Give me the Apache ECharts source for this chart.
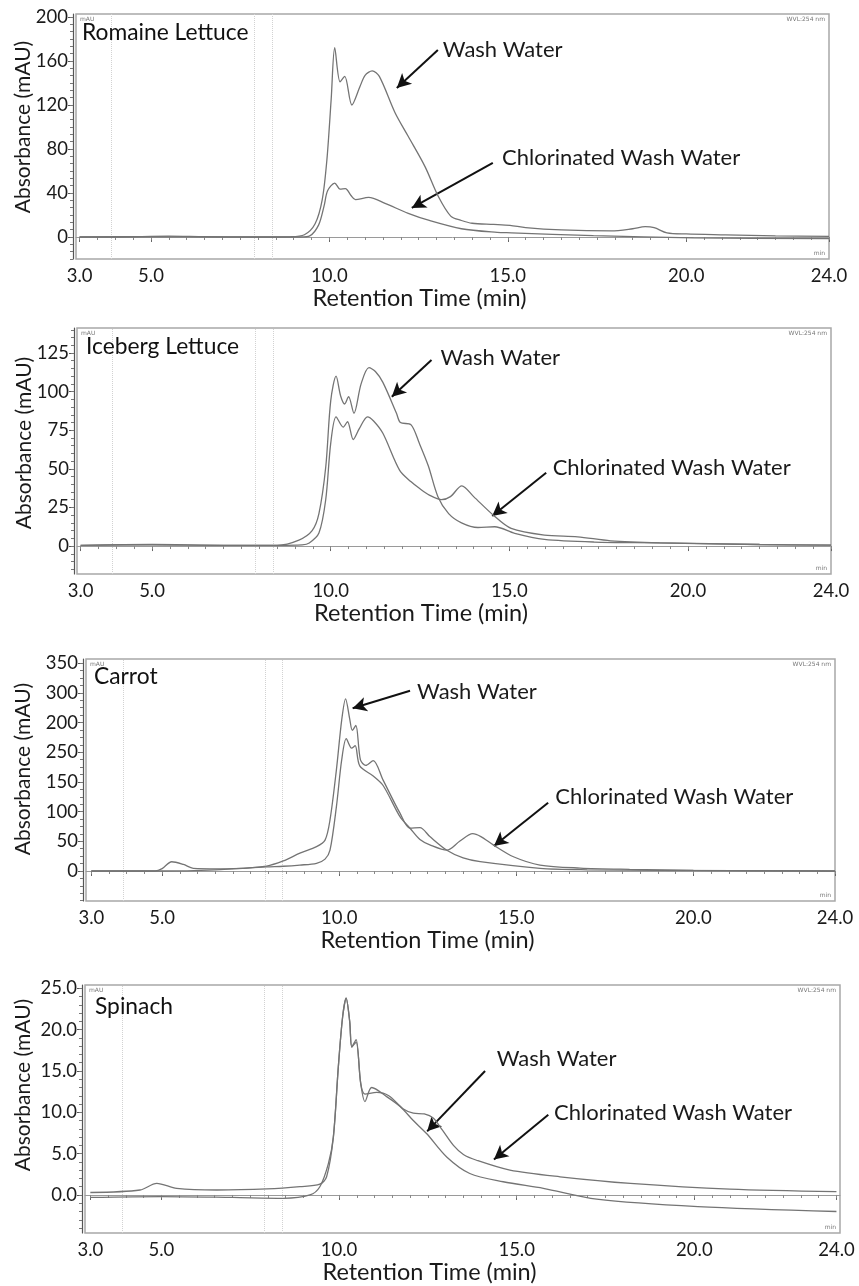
<!DOCTYPE html>
<html>
<head>
<meta charset="utf-8">
<script src="https://cdn.jsdelivr.net/npm/echarts@6/dist/echarts.min.js"></script>
<style>
html, body { margin: 0; padding: 0; background: #fff; }
#chart-container { width: 859px; height: 1286px; }
</style>
</head>
<body>
<div id="chart-container"></div>
<script>
var dom = document.getElementById('chart-container');
var myChart = echarts.init(dom, null, { renderer: 'canvas' });

// x ticks and the faint marker lines of the instrument software
var xTickValues = [3, 5, 10, 15, 20, 24];
var markerTimes = [3.9, 7.9, 8.4];

var panelNames = ['Romaine Lettuce', 'Iceberg Lettuce', 'Carrot', 'Spinach'];
var noteTexts = ['Wash Water', 'Chlorinated Wash Water'];

// [retention time (min), absorbance (mAU)]
var romaineWash = [[3, 0], [4, 0], [5.5, 0.8], [6.5, 0.3], [8, 0], [8.9, 0.2], [9.3, 2], [9.6, 12], [9.8, 34], [9.93, 70],
  [10.05, 125], [10.15, 172], [10.3, 141], [10.43, 146], [10.63, 120], [10.86, 137], [11.0, 147], [11.2, 151], [11.4, 146],
  [11.84, 113], [12.2, 92], [12.68, 64], [13.05, 37], [13.4, 19], [13.7, 15], [14.0, 12.5], [14.6, 11.5], [15.06, 10.6],
  [15.5, 8.5], [16.5, 6.4], [17.9, 5.5], [18.5, 7.5], [18.85, 9.4], [19.1, 8.5], [19.46, 3.8], [20, 2.8], [21.1, 2],
  [22.5, 1], [24, 0.5]];
var romaineChlor = [[3, 0], [5, 0.3], [7, 0], [8.5, 0], [9.2, 0], [9.45, 1], [9.7, 11], [9.85, 28], [9.95, 42], [10.15, 49],
  [10.3, 43.5], [10.45, 44], [10.6, 38], [10.73, 34], [11.1, 36], [11.56, 30.6], [12.21, 21.5], [12.8, 15], [13.7, 7.5],
  [14.7, 4.2], [15.1, 3.8], [17.4, 1.2], [20.2, -0.8], [24, -1.5]];

var icebergWash = [[3, 0.5], [5, 1], [7, 0.5], [8.5, 0.5], [9.11, 3.9], [9.48, 10], [9.67, 21], [9.86, 51], [10.0, 94],
  [10.15, 110], [10.28, 97], [10.39, 92], [10.5, 96.7], [10.65, 86], [10.85, 105], [11.07, 115.5], [11.25, 113],
  [11.46, 106], [11.84, 86], [11.95, 80], [12.25, 78.5], [12.48, 66.5], [12.73, 52], [13.0, 32], [13.3, 21], [13.66, 15],
  [14.12, 12], [14.59, 12.5], [15.15, 8.2], [15.98, 4.3], [17.37, 2.6], [19.2, 2.1], [22, 1], [24, 0.6]];
var icebergChlor = [[3, 0.5], [5, 0.8], [7, 0.5], [8.5, 0.5], [9.2, 0.8], [9.4, 2], [9.67, 8.4], [9.86, 30], [10.0, 66.5],
  [10.15, 83.7], [10.35, 77], [10.47, 80.5], [10.63, 69], [10.8, 76], [11.03, 83.7], [11.2, 81], [11.46, 73], [11.93, 49],
  [12.25, 41.6], [12.48, 37.4], [12.76, 33], [13.1, 30], [13.35, 32], [13.67, 39], [14.0, 32], [14.55, 20], [15.05, 11.4],
  [15.98, 7.1], [16.91, 6], [17.83, 3.4], [19.2, 2.1], [22, 1], [24, 0.6]];

var carrotWash = [[3, 0], [4.8, 0], [5.0, 4], [5.27, 15.6], [5.6, 11], [5.88, 4.5], [6.57, 3.7], [7.01, 4], [7.95, 8.4],
  [8.42, 17], [8.89, 30], [9.36, 41], [9.6, 52], [9.74, 86], [9.92, 170], [10.07, 254], [10.18, 290], [10.3, 255],
  [10.37, 237], [10.47, 245], [10.6, 187], [10.75, 178], [10.96, 186], [11.24, 153], [11.72, 97], [12.0, 72], [12.28, 73],
  [12.56, 58], [13.04, 35], [13.5, 22], [13.98, 15.7], [15.67, 4.5], [17, 2], [19, 1], [24, 0]];
var carrotChlor = [[3, 0], [5, 0], [6.5, 2], [7.95, 7], [8.42, 8], [8.89, 10], [9.36, 13], [9.6, 20], [9.74, 35],
  [9.92, 108], [10.07, 187], [10.2, 223], [10.35, 207], [10.45, 211], [10.58, 177], [10.96, 160], [11.24, 144],
  [11.72, 91], [12.0, 72], [12.28, 53], [12.56, 44], [13.04, 35], [13.4, 50], [13.77, 63], [14.0, 58], [14.35, 44],
  [14.92, 24], [15.67, 10], [16.8, 5], [18.2, 2.8], [20, 1], [24, 0]];

var spinachWash = [[3, -0.3], [5, -0.2], [7, -0.3], [8.43, -0.4], [9.18, 0], [9.46, 1.0], [9.7, 3.8], [9.84, 7],
  [9.98, 15.5], [10.1, 21.5], [10.2, 23.8], [10.3, 21], [10.36, 17.9], [10.48, 18.5], [10.61, 13.5], [10.73, 11.3],
  [10.92, 13.0], [11.34, 11.9], [11.72, 10.7], [12.09, 9.0], [12.47, 7.4], [13.03, 4.6], [13.68, 2.6], [14.62, 1.6],
  [15.75, 0.8], [17.25, -0.5], [20.1, -1.4], [24, -2.0]];
var spinachChlor = [[3, 0.3], [4.4, 0.6], [4.87, 1.4], [5.43, 0.8], [6.56, 0.6], [7.97, 0.73], [8.9, 1.0], [9.46, 1.3],
  [9.65, 2.2], [9.84, 7], [9.98, 15.5], [10.1, 21.5], [10.2, 23.8], [10.3, 21], [10.36, 17.9], [10.48, 18.8],
  [10.61, 13.5], [10.73, 12.2], [11.06, 12.4], [11.4, 12], [11.81, 10.4], [12.09, 9.9], [12.4, 9.8], [12.65, 9.3],
  [12.9, 7.9], [13.22, 6.0], [13.5, 4.9], [13.87, 4.2], [14.81, 3.0], [16.22, 2.2], [18.2, 1.4], [21, 0.7], [24, 0.4]];

// y tick values; the carrot panel prints 200 and 250 swapped, as in the original
var romaineYTicks = [0, 40, 80, 120, 160, 200];
var icebergYTicks = [0, 25, 50, 75, 100, 125];
var carrotYTicks = [0, 50, 100, 150, 200, 250, 300, 350];
var carrotYLabels = ['0', '50', '100', '150', '250', '200', '300', '350'];
var spinachYTicks = [0, 5, 10, 15, 20, 25];

// annotation anchors in data units: [text start], [arrow tail, arrow head]
var romaineNotes = [[13.18, 170], [14.84, 71.8]];
var romaineArrows = [[[13.04, 170], [11.89, 135.5]], [[14.58, 67.3], [12.31, 26.4]]];
var icebergNotes = [[13.07, 121.8], [16.21, 50.3]];
var icebergArrows = [[[12.82, 120.5], [11.71, 96.7]], [[16.03, 47.5], [14.52, 19.4]]];
var carrotNotes = [[12.2, 301], [16.1, 125]];
var carrotArrows = [[[12.0, 303.5], [10.38, 274]], [[15.9, 115], [14.37, 42]]];
var spinachNotes = [[14.44, 16.5], [16.05, 9.9]];
var spinachArrows = [[[14.11, 15.0], [12.48, 7.7]], [[15.89, 9.7], [14.36, 4.3]]];

var panels = [
  { wash: romaineWash, chlor: romaineChlor, yTicks: romaineYTicks, yLabels: null, notes: romaineNotes, arrows: romaineArrows },
  { wash: icebergWash, chlor: icebergChlor, yTicks: icebergYTicks, yLabels: null, notes: icebergNotes, arrows: icebergArrows },
  { wash: carrotWash, chlor: carrotChlor, yTicks: carrotYTicks, yLabels: carrotYLabels, notes: carrotNotes, arrows: carrotArrows },
  { wash: spinachWash, chlor: spinachChlor, yTicks: spinachYTicks, yLabels: null, notes: spinachNotes, arrows: spinachArrows, decimals: 1 }
];

// layout of each panel (pixels) and axis extents
var layout = [
  { left: 76, top: 14, width: 753, height: 245, xMin: 2.9, xMax: 24, yMin: -20, yMax: 202.7, yMinor: 40 / 6, yNameX: 23, yNameY: 127, titleLeft: 82, titleTop: 21 },
  { left: 77, top: 328, width: 754, height: 246, xMin: 2.9, xMax: 24, yMin: -18.1, yMax: 141.2, yMinor: 5, yNameX: 24, yNameY: 443, titleLeft: 86, titleTop: 335 },
  { left: 86, top: 659, width: 749, height: 242, xMin: 2.85, xMax: 24, yMin: -50.5, yMax: 357, yMinor: 12.5, yNameX: 23, yNameY: 769, titleLeft: 94, titleTop: 665 },
  { left: 85, top: 985, width: 755, height: 248, xMin: 2.85, xMax: 24.1, yMin: -4.6, yMax: 25.4, yMinor: 1, yNameX: 23, yNameY: 1085, titleLeft: 95, titleTop: 995 }
];

var FONT = 'Lato';
var lineColor = '#747474';

function steps(min, max, step) {
  var out = [];
  for (var i = Math.ceil(min / step - 1e-9); i * step <= max + 1e-9; i++) {
    out.push(+(i * step).toFixed(4));
  }
  return out;
}

var grids = [], xAxes = [], yAxes = [], series = [], titles = [], graphics = [];

panels.forEach(function (p, i) {
  var L = layout[i];
  grids.push({
    left: L.left, top: L.top, width: L.width, height: L.height,
    show: true, borderColor: '#a8a8a8', borderWidth: 1.5, backgroundColor: '#fff'
  });

  // main x axis with labels
  xAxes.push({
    type: 'value', gridIndex: i, position: 'bottom', min: L.xMin, max: L.xMax,
    axisLine: { show: true, lineStyle: { color: '#9a9a9a', width: 1 } },
    axisTick: { show: true, customValues: xTickValues, length: 5, lineStyle: { color: '#666' } },
    axisLabel: {
      customValues: xTickValues, margin: 8, fontSize: 18.5, color: '#1a1a1a', fontFamily: FONT,
      formatter: function (v) { return v.toFixed(1); }
    },
    splitLine: { show: false },
    name: 'Retention Time (min)', nameLocation: 'middle', nameGap: 25,
    nameTextStyle: { fontSize: 23.5, color: '#1a1a1a', fontFamily: FONT, padding: [0, 66, 0, 0] }
  });
  // minor x ticks
  xAxes.push({
    type: 'value', gridIndex: i, position: 'bottom', min: L.xMin, max: L.xMax,
    axisLine: { show: false },
    axisTick: { show: true, customValues: steps(3, 24, 0.5), length: 3, lineStyle: { color: '#888' } },
    axisLabel: { show: false }, splitLine: { show: false }
  });

  var labelFor = function (v) {
    if (p.yLabels) return p.yLabels[p.yTicks.indexOf(v)];
    return p.decimals ? v.toFixed(p.decimals) : String(v);
  };
  yAxes.push({
    type: 'value', gridIndex: i, position: 'left', offset: 3, min: L.yMin, max: L.yMax,
    axisLine: { show: true, lineStyle: { color: '#555', width: 1.2 } },
    axisTick: { show: true, customValues: p.yTicks, length: 5, lineStyle: { color: '#555' } },
    axisLabel: {
      customValues: p.yTicks, margin: 5, fontSize: 18.5, color: '#1a1a1a', fontFamily: FONT,
      formatter: labelFor
    },
    splitLine: { show: false }
  });
  yAxes.push({
    type: 'value', gridIndex: i, position: 'left', offset: 3, min: L.yMin, max: L.yMax,
    axisLine: { show: false },
    axisTick: { show: true, customValues: steps(L.yMin, L.yMax, L.yMinor), length: 3, lineStyle: { color: '#777' } },
    axisLabel: { show: false }, splitLine: { show: false }
  });

  var markLineData = markerTimes.map(function (t) {
    return { xAxis: t, lineStyle: { color: '#d2d2d2', type: 'dotted', width: 1 } };
  });
  p.arrows.forEach(function (a) {
    markLineData.push([
      { coord: a[0], symbol: 'none', lineStyle: { color: '#111', width: 2, type: 'solid' } },
      { coord: a[1], symbol: 'arrow' }
    ]);
  });

  series.push({
    name: noteTexts[0], type: 'line', xAxisIndex: 2 * i, yAxisIndex: 2 * i,
    data: p.wash, showSymbol: false, smooth: 0.3, z: 3,
    lineStyle: { color: lineColor, width: 1.3 },
    markLine: {
      silent: true, symbol: 'none', symbolSize: [11, 14], label: { show: false },
      data: markLineData, z: 1
    },
    markPoint: {
      silent: true, symbol: 'circle', symbolSize: 0,
      data: p.notes.map(function (n, k) {
        return {
          coord: n,
          label: {
            show: true, position: 'right', distance: 0, formatter: noteTexts[k],
            fontSize: 22, color: '#1a1a1a', fontFamily: FONT
          }
        };
      })
    }
  });
  series.push({
    name: noteTexts[1], type: 'line', xAxisIndex: 2 * i, yAxisIndex: 2 * i,
    data: p.chlor, showSymbol: false, smooth: 0.3, z: 3,
    lineStyle: { color: lineColor, width: 1.3 }
  });

  titles.push({
    text: panelNames[i], left: L.titleLeft, top: L.titleTop, padding: 0,
    textStyle: { fontSize: 22.8, fontWeight: 'normal', color: '#111', fontFamily: FONT }
  });

  // y axis title, rotated
  graphics.push({
    type: 'text', x: L.yNameX, y: L.yNameY, rotation: Math.PI / 2,
    style: { text: 'Absorbance (mAU)', fontSize: 21, fill: '#1a1a1a', fontFamily: FONT, align: 'center', verticalAlign: 'middle' }
  });

  var tiny = { fontSize: 6, fill: '#777', fontFamily: 'DejaVu Sans' };
  graphics.push({ type: 'text', x: L.left + 4, y: L.top + 2, style: Object.assign({ text: 'mAU' }, tiny) });
  graphics.push({ type: 'text', x: L.left + L.width - 4, y: L.top + 2, style: Object.assign({ text: 'WVL:254 nm', align: 'right' }, tiny) });
  graphics.push({ type: 'text', x: L.left + L.width - 4, y: L.top + L.height - 9, style: Object.assign({ text: 'min', align: 'right' }, tiny) });
});

var option = {
  animation: false,
  backgroundColor: '#fff',
  title: titles,
  grid: grids,
  xAxis: xAxes,
  yAxis: yAxes,
  series: series,
  graphic: graphics
};

myChart.setOption(option);
window.addEventListener('resize', myChart.resize);
</script>
</body>
</html>
